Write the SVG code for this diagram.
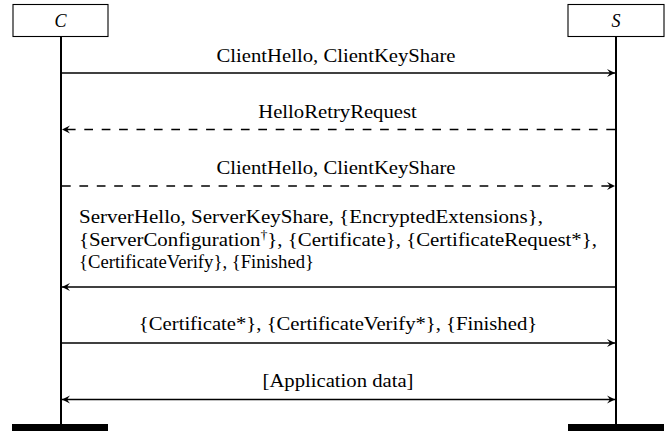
<svg xmlns="http://www.w3.org/2000/svg" width="665" height="431" viewBox="0 0 665 431">
<defs>
<style>
.box{fill:#fff;stroke:#000;stroke-width:1.1}
.life{stroke:#000;stroke-width:2;fill:none}
.msg{stroke:#000;stroke-width:1.3;fill:none}
.dash{stroke-dasharray:8.7,8.7}
.lbl{font-family:"Liberation Serif","Times New Roman",serif;font-size:18px;fill:#000}
.mid{text-anchor:middle}
.it{font-style:italic}
</style>
<marker id="ah" markerWidth="12" markerHeight="10" refX="0" refY="0" viewBox="-9 -5 10 10" orient="auto-start-reverse" markerUnits="userSpaceOnUse">
<path d="M0,0 L-8,-4 Q-5.5,-1 -5.2,0 Q-5.5,1 -8,4 Z" fill="#000"/>
</marker>
</defs>
<rect width="665" height="431" fill="#fff"/>
<g id="lifelines">
<line class="life" x1="61" y1="36.5" x2="61" y2="424"/>
<line class="life" x1="616" y1="36.5" x2="616" y2="424"/>
<rect x="12" y="424" width="96" height="7" fill="#000"/>
<rect x="568" y="424" width="96" height="7" fill="#000"/>
</g>
<g id="nodeC">
<rect class="box" x="13" y="4.5" width="95" height="32"/>
<text class="lbl mid it" x="60.5" y="26.5">C</text>
</g>
<g id="nodeS">
<rect class="box" x="568" y="4.5" width="96" height="32"/>
<text class="lbl mid it" x="616" y="26.5">S</text>
</g>
<g id="connectors">
<line class="msg" x1="62" y1="73" x2="615" y2="73" marker-end="url(#ah)"/>
<line class="msg dash" x1="615" y1="129.5" x2="62" y2="129.5" marker-end="url(#ah)"/>
<line class="msg dash" x1="62" y1="186" x2="615" y2="186" marker-end="url(#ah)"/>
<line class="msg" x1="615" y1="287" x2="62" y2="287" marker-end="url(#ah)"/>
<line class="msg" x1="62" y1="343" x2="615" y2="343" marker-end="url(#ah)"/>
<line class="msg" x1="62" y1="399.5" x2="615" y2="399.5" marker-start="url(#ah)" marker-end="url(#ah)"/>
</g>
<g id="labels">
<text class="lbl mid" transform="translate(336,61.5) scale(1.15,1)">ClientHello, ClientKeyShare</text>
<text class="lbl mid" transform="translate(337.5,117.5) scale(1.15,1)">HelloRetryRequest</text>
<text class="lbl mid" transform="translate(336,174) scale(1.15,1)">ClientHello, ClientKeyShare</text>
<text class="lbl" x="79" y="223" textLength="464" lengthAdjust="spacingAndGlyphs">ServerHello, ServerKeyShare, {EncryptedExtensions},</text>
<text class="lbl" x="79" y="245.5" textLength="518" lengthAdjust="spacingAndGlyphs">{ServerConfiguration<tspan font-size="12" dy="-7">†</tspan><tspan dy="7">}, {Certificate}, {CertificateRequest*},</tspan></text>
<text class="lbl" x="79" y="268" textLength="235" lengthAdjust="spacingAndGlyphs">{CertificateVerify}, {Finished}</text>
<text class="lbl mid" transform="translate(338,330) scale(1.15,1)">{Certificate*}, {CertificateVerify*}, {Finished}</text>
<text class="lbl mid" transform="translate(338,387) scale(1.15,1)">[Application data]</text>
</g>
</svg>
